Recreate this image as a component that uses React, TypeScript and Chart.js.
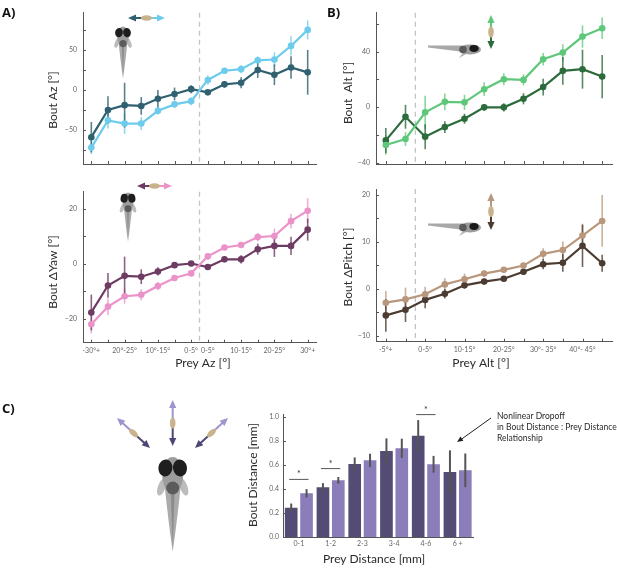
import React, { useEffect, useRef } from "react";
import { Chart, registerables } from "chart.js";
Chart.register(...registerables);
Chart.defaults.font.family = "Lato, 'Open Sans', sans-serif";

// ---------------- DATA ----------------
const azLabels = ["-30°+", "", "20°-25°", "", "10°-15°", "", "0-5°", "0-5°", "", "10-15°", "", "20-25°", "", "30°+"];
const azLight = [-72, -38, -42, -42, -26, -18, -14, 12.5, 24, 26, 37, 38, 55, 75];
const azLightErr = [8, 10, 13, 8, 5, 4, 5, 6, 3, 5, 5, 9, 12, 12];
const azDark = [-59, -25, -19, -20, -11, -5, 1, -3, 7, 9, 25, 19, 28, 22];
const azDarkErr = [19, 17, 28, 11, 11, 8, 5, 3, 4, 7, 10, 13, 14, 28];

const yawLight = [-22, -15.6, -11.8, -11.3, -8.1, -5.2, -3.5, 2.7, 5.9, 6.8, 9.7, 10.1, 15.5, 19.3];
const yawLightErr = [3.3, 3, 2.7, 2, 1.5, 1, 1, 1.2, 1, 1, 1.5, 2.7, 2.7, 4.5];
const yawDark = [-17.7, -7.9, -4.4, -4.7, -2.8, -0.5, 0.1, -1.2, 1.6, 1.6, 5.3, 6.5, 6.5, 12.4];
const yawDarkErr = [6.5, 4.5, 7, 2.7, 1.5, 0.7, 0.6, 0.5, 0.8, 1.5, 2, 4, 3.3, 4];

const altLabels = ["-5°+", "", "0-5°", "", "10-15°", "", "20-25°", "", "30°- 35°", "", "40°- 45°", ""];
const altLight = [-27.3, -23, -3.8, 3.8, 3.4, 12.9, 20.1, 19.6, 34.5, 39.3, 50.8, 56.8];
const altLightErr = [7, 5, 12, 6, 5.5, 5, 4.3, 4, 4.5, 6, 8, 7.8];
const altDark = [-24, -7, -21.3, -14.4, -8.4, -0.2, -0.2, 6, 14.4, 26.1, 27.3, 22];
const altDarkErr = [9, 8.6, 9, 4.2, 3.6, 2.5, 3, 4, 6, 10, 14, 15.6];

const pitchLight = [-3, -2.3, -1.2, 0.9, 2, 3.2, 4, 4.9, 7.4, 8.2, 11.3, 14.4];
const pitchLightErr = [2.5, 2.5, 1.6, 1.3, 1.2, 0.7, 0.6, 0.6, 1.2, 1.8, 2.5, 5.5];
const pitchDark = [-5.7, -4.5, -2.4, -1.1, 0.7, 1.5, 2.1, 3.6, 5.2, 5.5, 9.1, 5.4];
const pitchDarkErr = [3.5, 2.6, 1.8, 1, 0.7, 0.6, 0.5, 0.6, 1.1, 1.9, 4.5, 1.8];

const distCats = ["0-1", "1-2", "2-3", "3-4", "4-6", "6 +"];
const distDark = [0.244, 0.414, 0.608, 0.717, 0.844, 0.542];
const distDarkErr = [0.035, 0.035, 0.055, 0.105, 0.13, 0.18];
const distLight = [0.364, 0.472, 0.639, 0.739, 0.606, 0.556];
const distLightErr = [0.035, 0.028, 0.055, 0.08, 0.07, 0.14];
const sigIndex = [0, 1, 4];
const sigHeight = [0.48, 0.57, 1.02];

// ---------------- STYLE ----------------
const AXIS = "#555";
const TICKTXT = "#666";
const TITLE = "#2a2a2a";
const FAMILY = "Lato, 'Open Sans', sans-serif";

type Box = { x: number; y: number; w: number; h: number };
type Area = { l: number; t: number; r: number; b: number };

function pad(c: Box, a: Area, yW: number, xH: number) {
  return { left: a.l - c.x - yW, top: a.t - c.y, right: c.x + c.w - a.r, bottom: c.y + c.h - a.b - xH };
}

function txt(ctx: any, s: string, x: number, y: number, o: any = {}) {
  ctx.save();
  ctx.translate(x, y);
  ctx.rotate(o.rotate || 0);
  ctx.font = `${o.weight || "normal"} ${o.size || 12}px ${o.family || FAMILY}`;
  ctx.fillStyle = o.color || TITLE;
  ctx.textAlign = o.align || "center";
  ctx.textBaseline = "middle";
  ctx.fillText(s, 0, 0);
  ctx.restore();
}

function arrowHead(ctx: any, tx: number, ty: number, ux: number, uy: number, len: number, half: number, color: string) {
  const bx = tx - ux * len, by = ty - uy * len;
  ctx.fillStyle = color;
  ctx.beginPath();
  ctx.moveTo(tx, ty);
  ctx.lineTo(bx - uy * half, by + ux * half);
  ctx.lineTo(bx + uy * half, by - ux * half);
  ctx.closePath();
  ctx.fill();
}

function doubleArrow(ctx: any, x1: number, y1: number, x2: number, y2: number, c1: string, c2: string) {
  const dx = x2 - x1, dy = y2 - y1, L = Math.hypot(dx, dy);
  const ux = dx / L, uy = dy / L;
  const mx = (x1 + x2) / 2, my = (y1 + y2) / 2;
  ctx.save();
  ctx.lineWidth = 2;
  ctx.strokeStyle = c1;
  ctx.beginPath(); ctx.moveTo(x1 + ux * 6, y1 + uy * 6); ctx.lineTo(mx, my); ctx.stroke();
  ctx.strokeStyle = c2;
  ctx.beginPath(); ctx.moveTo(mx, my); ctx.lineTo(x2 - ux * 6, y2 - uy * 6); ctx.stroke();
  arrowHead(ctx, x1, y1, -ux, -uy, 8, 3.6, c1);
  arrowHead(ctx, x2, y2, ux, uy, 8, 3.6, c2);
  ctx.fillStyle = "#c9b28c";
  ctx.beginPath();
  ctx.ellipse(mx, my, 5.5, 2.8, Math.atan2(dy, dx), 0, Math.PI * 2);
  ctx.fill();
  ctx.restore();
}

function topFish(ctx: any, cx: number, top: number, s: number) {
  ctx.save();
  ctx.translate(cx, top);
  ctx.scale(s, s);
  ctx.fillStyle = "#ababab";
  ctx.beginPath();
  ctx.moveTo(-8, 30);
  ctx.quadraticCurveTo(-5, 60, 0, 96);
  ctx.quadraticCurveTo(5, 60, 8, 30);
  ctx.closePath();
  ctx.fill();
  ctx.fillStyle = "#8c8c8c";
  ctx.beginPath(); ctx.moveTo(-2, 36); ctx.lineTo(0, 90); ctx.lineTo(2, 36); ctx.closePath(); ctx.fill();
  ctx.fillStyle = "#bcbcbc";
  ctx.beginPath(); ctx.ellipse(-11, 31, 3.8, 9, 0.35, 0, Math.PI * 2); ctx.fill();
  ctx.beginPath(); ctx.ellipse(11, 31, 3.8, 9, -0.35, 0, Math.PI * 2); ctx.fill();
  ctx.fillStyle = "#9d9d9d";
  ctx.beginPath(); ctx.ellipse(0, 19, 10.5, 18, 0, 0, Math.PI * 2); ctx.fill();
  ctx.fillStyle = "#1e1e1e";
  ctx.beginPath(); ctx.ellipse(-7.3, 12, 7, 8.5, 0.15, 0, Math.PI * 2); ctx.fill();
  ctx.beginPath(); ctx.ellipse(7.3, 12, 7, 8.5, -0.15, 0, Math.PI * 2); ctx.fill();
  ctx.fillStyle = "#5b5b5b";
  ctx.beginPath(); ctx.arc(0, 32, 6.5, 0, Math.PI * 2); ctx.fill();
  ctx.restore();
}

function sideFish(ctx: any, x0: number, y0: number) {
  ctx.save();
  ctx.translate(x0, y0);
  ctx.fillStyle = "#a8a8a8";
  ctx.beginPath();
  ctx.moveTo(0, -1.5); ctx.lineTo(34, -1.5); ctx.lineTo(36, 5); ctx.lineTo(0, 0.5); ctx.closePath(); ctx.fill();
  ctx.fillStyle = "#b8b8b8";
  ctx.beginPath(); ctx.moveTo(36, 4); ctx.lineTo(42, 5); ctx.lineTo(31, 11); ctx.closePath(); ctx.fill();
  ctx.fillStyle = "#9d9d9d";
  ctx.beginPath(); ctx.ellipse(42, 2.5, 11, 5, 0, 0, Math.PI * 2); ctx.fill();
  ctx.fillStyle = "#5b5b5b";
  ctx.beginPath(); ctx.arc(35, 2.5, 3.8, 0, Math.PI * 2); ctx.fill();
  ctx.fillStyle = "#1a1a1a";
  ctx.beginPath(); ctx.ellipse(46, 1.5, 4.6, 3.4, 0, 0, Math.PI * 2); ctx.fill();
  ctx.restore();
}

// ---------------- PLUGINS ----------------
const errorBars = {
  id: "errbars",
  beforeDatasetsDraw(chart: any) { drawErr(chart, false); },
  afterDatasetsDraw(chart: any) { drawErr(chart, true); },
};
function drawErr(chart: any, onTop: boolean) {
  const ctx = chart.ctx;
  const ys = chart.scales.y;
  chart.data.datasets.forEach((ds: any, di: number) => {
    if (!ds.errors || !!ds.errorsOnTop !== onTop) return;
    const meta = chart.getDatasetMeta(di);
    ctx.save();
    ctx.strokeStyle = ds.errorColor;
    ctx.lineWidth = ds.errorWidth || 1.5;
    meta.data.forEach((el: any, i: number) => {
      const d = ds.data[i];
      const v = typeof d === "number" ? d : d.y;
      const e = ds.errors[i];
      ctx.beginPath();
      ctx.moveTo(el.x, ys.getPixelForValue(v - e));
      ctx.lineTo(el.x, ys.getPixelForValue(v + e));
      ctx.stroke();
    });
    ctx.restore();
  });
}

const inTicks = {
  id: "inticks",
  afterDatasetsDraw(chart: any, _a: any, opts: any) {
    const { ctx, chartArea } = chart;
    const xs = chart.scales.x, ys = chart.scales.y;
    ctx.save();
    ctx.strokeStyle = AXIS;
    ctx.lineWidth = 1;
    if (opts.x) {
      xs.ticks.forEach((_t: any, i: number) => {
        const x = Math.round(xs.getPixelForTick(i)) + 0.5;
        ctx.beginPath(); ctx.moveTo(x, chartArea.bottom); ctx.lineTo(x, chartArea.bottom - 3); ctx.stroke();
      });
    }
    ys.ticks.forEach((_t: any, i: number) => {
      const y = Math.round(ys.getPixelForTick(i)) + 0.5;
      ctx.beginPath(); ctx.moveTo(chartArea.left, y); ctx.lineTo(chartArea.left + 3, y); ctx.stroke();
    });
    ctx.restore();
  },
};

function decoPlugin(box: Box, draw: (ctx: any, chart: any) => void) {
  return {
    id: "deco",
    afterDraw(chart: any) {
      const ctx = chart.ctx;
      ctx.save();
      ctx.translate(-box.x, -box.y);
      draw(ctx, chart);
      ctx.restore();
    },
  };
}

function dashPlugin(at: number) {
  return {
    id: "dash",
    beforeDatasetsDraw(chart: any) {
      const { ctx, chartArea } = chart;
      const x = chart.scales.x.getPixelForValue(at);
      ctx.save();
      ctx.strokeStyle = "#c4c4c4";
      ctx.lineWidth = 1.3;
      ctx.setLineDash([5, 4]);
      ctx.beginPath(); ctx.moveTo(x, chartArea.top); ctx.lineTo(x, chartArea.bottom); ctx.stroke();
      ctx.restore();
    },
  };
}

const fmtNum = (n: number) => (n < 0 ? "\u2212" + Math.abs(n) : String(n));

type Series = { values: number[]; errors: number[]; color: string; errColor: string };

function lineConfig(o: {
  box: Box; area: Area; yW: number; xH: number; xLabels: string[]; showX: boolean;
  yMin: number; yMax: number; yStep: number; yMajor: number; series: Series[]; dashAt: number;
  deco: (ctx: any, chart: any) => void;
}) {
  const n = o.xLabels.length;
  return {
    type: "line",
    data: {
      datasets: o.series.map((s) => ({
        data: s.values.map((v, i) => ({ x: i + 1, y: v })),
        borderColor: s.color,
        backgroundColor: s.color,
        pointBackgroundColor: s.color,
        pointBorderWidth: 0,
        pointRadius: 3.3,
        borderWidth: 2.2,
        tension: 0,
        errors: s.errors,
        errorColor: s.errColor,
        errorWidth: 1.6,
      })),
    },
    options: {
      animation: false,
      responsive: false,
      events: [],
      layout: { padding: pad(o.box, o.area, o.yW, o.xH) },
      plugins: { legend: { display: false }, tooltip: { enabled: false }, inticks: { x: true } },
      scales: {
        x: {
          type: "linear",
          min: 0.5,
          max: n + 0.5,
          grid: { display: false, drawTicks: false },
          border: { color: AXIS, width: 1 },
          afterBuildTicks: (s: any) => { s.ticks = o.xLabels.map((_l, i) => ({ value: i + 1 })); },
          afterFit: (s: any) => { s.height = o.xH; s.paddingLeft = 0; s.paddingRight = 0; },
          ticks: {
            display: o.showX,
            autoSkip: false,
            maxRotation: 0,
            minRotation: 0,
            padding: 4,
            color: TICKTXT,
            font: { size: 7 },
            callback: (v: any) => o.xLabels[Math.round(Number(v)) - 1] ?? "",
          },
        },
        y: {
          type: "linear",
          min: o.yMin,
          max: o.yMax,
          grid: { display: false, drawTicks: false },
          border: { color: AXIS, width: 1 },
          afterBuildTicks: (s: any) => {
            s.ticks = s.ticks.filter((t: any) => {
              const q = t.value / o.yStep;
              return Math.abs(q - Math.round(q)) < 1e-6 && t.value >= o.yMin && t.value <= o.yMax;
            });
          },
          afterFit: (s: any) => { s.width = o.yW; s.paddingTop = 0; s.paddingBottom = 0; },
          ticks: {
            stepSize: o.yStep,
            includeBounds: false,
            autoSkip: false,
            padding: 6,
            color: TICKTXT,
            font: { size: 7 },
            callback: (v: any) => {
              const q = Number(v) / o.yMajor;
              return Math.abs(q - Math.round(q)) < 1e-6 ? fmtNum(Math.round(Number(v))) : "";
            },
          },
        },
      },
    },
    plugins: [errorBars, inTicks, dashPlugin(o.dashAt), decoPlugin(o.box, o.deco)],
  };
}

// ---------------- BOXES ----------------
const boxAT: Box = { x: 0, y: 0, w: 320, h: 175 };
const boxAB: Box = { x: 0, y: 175, w: 320, h: 195 };
const boxBT: Box = { x: 320, y: 0, w: 297, h: 175 };
const boxBB: Box = { x: 320, y: 175, w: 297, h: 195 };
const boxC: Box = { x: 0, y: 370, w: 617, h: 198 };

const C_AZ_D = "#2f6170", C_AZ_L = "#6dcbeb";
const C_YAW_D = "#6e3b63", C_YAW_L = "#eb93c9";
const C_ALT_D = "#2c6b3b", C_ALT_L = "#5ec779";
const C_PIT_D = "#4b3b30", C_PIT_L = "#b8977c";
const C_BAR_D = "#544c75", C_BAR_L = "#8b7db9";

function withAlpha(hex: string, a: number) {
  const n = parseInt(hex.slice(1), 16);
  return `rgba(${(n >> 16) & 255},${(n >> 8) & 255},${n & 255},${a})`;
}

function configs(): { box: Box; cfg: any }[] {
  const aTop = lineConfig({
    box: boxAT, area: { l: 83, t: 12.7, r: 316, b: 164 }, yW: 40, xH: 4,
    xLabels: azLabels, showX: false, yMin: -92.5, yMax: 96.5, yStep: 25, yMajor: 50, dashAt: 7.5,
    series: [
      { values: azLight, errors: azLightErr, color: C_AZ_L, errColor: withAlpha(C_AZ_L, 0.75) },
      { values: azDark, errors: azDarkErr, color: C_AZ_D, errColor: withAlpha(C_AZ_D, 0.8) },
    ],
    deco: (ctx) => {
      txt(ctx, "A)", 2, 13, { size: 13, weight: "bold", align: "left", family: "'Open Sans', sans-serif", color: "#111" });
      txt(ctx, "Bout Az [°]", 53, 100, { rotate: -Math.PI / 2, size: 12 });
      topFish(ctx, 123, 26, 0.55);
      doubleArrow(ctx, 128, 18, 165, 18, C_AZ_D, C_AZ_L);
    },
  });
  const aBot = lineConfig({
    box: boxAB, area: { l: 83, t: 191.7, r: 316, b: 342.7 }, yW: 40, xH: 18,
    xLabels: azLabels, showX: true, yMin: -28.7, yMax: 26.2, yStep: 10, yMajor: 20, dashAt: 7.5,
    series: [
      { values: yawLight, errors: yawLightErr, color: C_YAW_L, errColor: withAlpha(C_YAW_L, 0.75) },
      { values: yawDark, errors: yawDarkErr, color: C_YAW_D, errColor: withAlpha(C_YAW_D, 0.8) },
    ],
    deco: (ctx) => {
      txt(ctx, "Bout \u0394Yaw [°]", 53, 272, { rotate: -Math.PI / 2, size: 12 });
      txt(ctx, "Prey Az [°]", 203, 363, { size: 12 });
      topFish(ctx, 128, 192, 0.52);
      doubleArrow(ctx, 137, 186, 172, 186, C_YAW_D, C_YAW_L);
    },
  });
  const bTop = lineConfig({
    box: boxBT, area: { l: 376, t: 12.7, r: 612, b: 164 }, yW: 40, xH: 4,
    xLabels: altLabels, showX: false, yMin: -41, yMax: 68, yStep: 20, yMajor: 40, dashAt: 2.5,
    series: [
      { values: altLight, errors: altLightErr, color: C_ALT_L, errColor: withAlpha(C_ALT_L, 0.75) },
      { values: altDark, errors: altDarkErr, color: C_ALT_D, errColor: withAlpha(C_ALT_D, 0.8) },
    ],
    deco: (ctx) => {
      txt(ctx, "B)", 327, 13, { size: 13, weight: "bold", align: "left", family: "'Open Sans', sans-serif", color: "#111" });
      txt(ctx, "Bout  Alt [°]", 348, 93, { rotate: -Math.PI / 2, size: 12 });
      sideFish(ctx, 428, 47);
      doubleArrow(ctx, 491, 15, 491, 49, C_ALT_L, C_ALT_D);
    },
  });
  const bBot = lineConfig({
    box: boxBB, area: { l: 376, t: 189, r: 612, b: 341.7 }, yW: 40, xH: 18,
    xLabels: altLabels, showX: true, yMin: -11.3, yMax: 21.2, yStep: 5, yMajor: 10, dashAt: 2.5,
    series: [
      { values: pitchLight, errors: pitchLightErr, color: C_PIT_L, errColor: withAlpha(C_PIT_L, 0.75) },
      { values: pitchDark, errors: pitchDarkErr, color: C_PIT_D, errColor: withAlpha(C_PIT_D, 0.8) },
    ],
    deco: (ctx) => {
      txt(ctx, "Bout \u0394Pitch [°]", 348, 267, { rotate: -Math.PI / 2, size: 12 });
      txt(ctx, "Prey Alt [°]", 481, 363, { size: 12 });
      sideFish(ctx, 428, 225);
      doubleArrow(ctx, 491, 193, 491, 230, C_PIT_L, C_PIT_D);
    },
  });

  const areaC: Area = { l: 283, t: 414, r: 473.5, b: 537 };
  const barC = {
    type: "bar",
    data: {
      labels: distCats,
      datasets: [
        { data: distDark, backgroundColor: C_BAR_D, errors: distDarkErr, errorColor: "#555", errorWidth: 2, errorsOnTop: true, categoryPercentage: 0.967, barPercentage: 0.825 },
        { data: distLight, backgroundColor: C_BAR_L, errors: distLightErr, errorColor: "#555", errorWidth: 2, errorsOnTop: true, categoryPercentage: 0.967, barPercentage: 0.825 },
      ],
    },
    options: {
      animation: false,
      responsive: false,
      events: [],
      layout: { padding: pad(boxC, areaC, 30, 16) },
      plugins: { legend: { display: false }, tooltip: { enabled: false }, inticks: { x: false } },
      scales: {
        x: {
          grid: { display: false, drawTicks: false },
          border: { color: AXIS, width: 1 },
          afterFit: (s: any) => { s.height = 16; s.paddingLeft = 0; s.paddingRight = 0; },
          ticks: { padding: 3, color: TICKTXT, font: { size: 7 }, maxRotation: 0, autoSkip: false },
        },
        y: {
          min: 0,
          max: 1.025,
          grid: { display: false, drawTicks: false },
          border: { color: AXIS, width: 1 },
          afterBuildTicks: (s: any) => {
            s.ticks = s.ticks.filter((t: any) => {
              const q = t.value / 0.2;
              return Math.abs(q - Math.round(q)) < 1e-6 && t.value <= 1.0001;
            });
          },
          afterFit: (s: any) => { s.width = 30; s.paddingTop = 0; s.paddingBottom = 0; },
          ticks: { stepSize: 0.2, includeBounds: false, padding: 4, color: TICKTXT, font: { size: 7 }, callback: (v: any) => Number(v).toFixed(1) },
        },
      },
    },
    plugins: [
      errorBars,
      inTicks,
      decoPlugin(boxC, (ctx, chart) => {
        const ys = chart.scales.y;
        const m0 = chart.getDatasetMeta(0), m1 = chart.getDatasetMeta(1);
        ctx.save();
        ctx.strokeStyle = "#555";
        ctx.lineWidth = 1;
        sigIndex.forEach((ci, k) => {
          const x1 = m0.data[ci].x, x2 = m1.data[ci].x;
          const y = ys.getPixelForValue(sigHeight[k]) + boxC.y;
          ctx.beginPath(); ctx.moveTo(x1 - 2, y); ctx.lineTo(x2 + 2, y); ctx.stroke();
          txt(ctx, "*", (x1 + x2) / 2, y - 5, { size: 9, color: "#333" });
        });
        ctx.restore();
        txt(ctx, "C)", 2, 409, { size: 13, weight: "bold", align: "left", family: "'Open Sans', sans-serif", color: "#111" });
        txt(ctx, "Bout Distance [mm]", 253, 475, { rotate: -Math.PI / 2, size: 12 });
        txt(ctx, "Prey Distance [mm]", 374, 559, { size: 12 });
        txt(ctx, "Nonlinear Dropoff", 497, 416, { size: 8.5, align: "left" });
        txt(ctx, "in Bout Distance : Prey Distance", 497, 427, { size: 8.5, align: "left" });
        txt(ctx, "Relationship", 497, 438, { size: 8.5, align: "left" });
        ctx.save();
        ctx.strokeStyle = "#222";
        ctx.lineWidth = 1;
        ctx.beginPath(); ctx.moveTo(491, 418); ctx.lineTo(461, 439.5); ctx.stroke();
        const L = Math.hypot(491 - 457, 418 - 442);
        arrowHead(ctx, 457, 442, (457 - 491) / L, (442 - 418) / L, 6, 2.6, "#222");
        ctx.restore();
        topFish(ctx, 172.7, 456, 1);
        doubleArrow(ctx, 172.7, 400, 172.7, 446, "#a094cc", "#4f4675");
        doubleArrow(ctx, 117, 418, 150, 448, "#a094cc", "#4f4675");
        doubleArrow(ctx, 228, 418, 195, 448, "#a094cc", "#4f4675");
      }),
    ],
  };

  return [
    { box: boxAT, cfg: aTop },
    { box: boxAB, cfg: aBot },
    { box: boxBT, cfg: bTop },
    { box: boxBB, cfg: bBot },
    { box: boxC, cfg: barC },
  ];
}

function ChartCanvas({ box, cfg }: { box: Box; cfg: any }) {
  const ref = useRef<HTMLCanvasElement | null>(null);
  useEffect(() => {
    if (!ref.current) return;
    const chart = new Chart(ref.current, cfg);
    return () => chart.destroy();
  }, []);
  return (
    <canvas
      ref={ref}
      width={box.w}
      height={box.h}
      style={{ position: "absolute", left: box.x, top: box.y, width: box.w, height: box.h }}
    />
  );
}

export default function App() {
  const list = configs();
  return (
    <div style={{ position: "absolute", left: 0, top: 0, width: 617, height: 568, background: "#fff", overflow: "hidden" }}>
      {list.map((c, i) => (
        <ChartCanvas key={i} box={c.box} cfg={c.cfg} />
      ))}
    </div>
  );
}
